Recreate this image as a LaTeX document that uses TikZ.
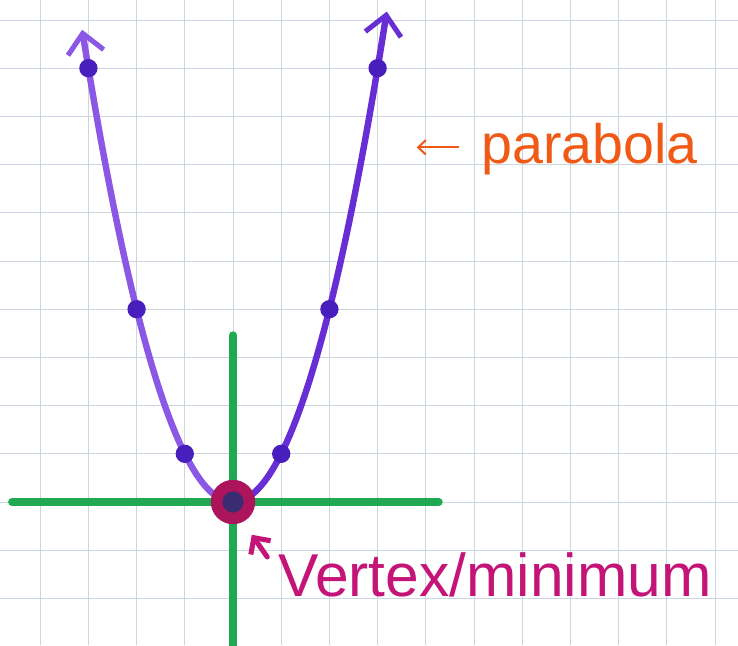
\documentclass[tikz,border=0pt]{standalone}
\usepackage{fontspec}
\setmainfont{Liberation Sans}
\usetikzlibrary{arrows.meta,positioning}
\definecolor{gridblue}{RGB}{204,214,224}
\definecolor{axisgreen}{RGB}{32,168,82}
\definecolor{leftviolet}{RGB}{138,88,228}
\definecolor{rightviolet}{RGB}{104,46,214}
\definecolor{dotviolet}{RGB}{72,30,188}
\definecolor{vertexred}{RGB}{172,20,92}
\definecolor{vertexcore}{RGB}{58,44,112}
\definecolor{noteorange}{RGB}{240,90,22}
\definecolor{notemagenta}{RGB}{196,20,120}
\tikzset{
    >=Stealth,
    handbarb/.tip={Straight Barb[length=4mm, width=7.5mm, line width=3pt]},
    gridline/.style={draw=gridblue, line width=0.5pt},
    axis/.style={draw=axisgreen, line width=4.6pt, line cap=round},
    curve/.style={line width=3.8pt, line cap=round},
    pointdot/.style={fill=dotviolet},
    note/.style={inner sep=0pt, anchor=base west}
}

\begin{document}
\begin{tikzpicture}
    \useasboundingbox (-4.834,-2.967) rectangle (10.477,10.415);
    \fill[white] (-4.834,-2.967) rectangle (10.477,10.415);

    % graph paper
    \foreach \gx in {-4,...,10}
        \draw[gridline] (\gx,-2.967) -- (\gx,10.415);
    \foreach \gy in {-2,...,10}
        \draw[gridline] (-4.834,\gy) -- (10.477,\gy);

    % axes
    \draw[axis] (-4.585,0) -- (4.27,0);
    \draw[axis] (0,3.46) -- (0,-3.1);

    % the curve y = x^2
    \draw[curve, draw=leftviolet, handbarb-] plot[domain=-3.13:0, samples=50] (\x,{\x*\x});
    \draw[curve, draw=rightviolet, -handbarb] plot[domain=0:3.19, samples=50] (\x,{\x*\x});
    \foreach \px in {-3,-2,-1,1,2,3}
        \fill[pointdot] (\px,{\px*\px}) circle (0.19);

    % vertex
    \fill[vertexred] (0,0) circle (0.46);
    \fill[vertexcore] (0,0) circle (0.22);

    % labels
    \node[note, text=noteorange, font=\fontsize{32.8}{36}\selectfont] (parab) at (5.15,7.03) {parabola};
    \coordinate[left=0.46cm of parab.west, yshift=0.3mm] (parabtail);
    \coordinate[left=1.34cm of parab.west, yshift=0.3mm] (parabtip);
    \draw[noteorange, line width=1.2pt, -{Straight Barb[length=1.6mm, width=3mm]}] (parabtail) -- (parabtip);

    \node[note, text=notemagenta, font=\fontsize{35.7}{40}\selectfont] (vert) at (0.93,-1.95) {Vertex/minimum};
    \coordinate (verttail) at (0.71,-1.14);
    \coordinate (verttip) at (0.39,-0.68);
    \draw[notemagenta, line width=3pt, line cap=round, -{Straight Barb[length=2.5mm, width=5mm]}] (verttail) -- (verttip);
\end{tikzpicture}
\end{document}
